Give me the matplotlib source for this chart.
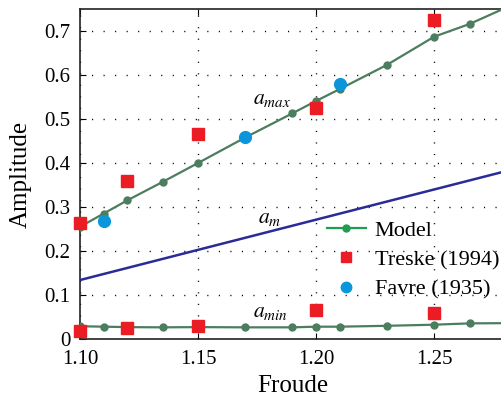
import matplotlib
matplotlib.use("Agg")
import matplotlib.pyplot as plt
from matplotlib.lines import Line2D

plt.rcParams['font.family'] = ['Liberation Serif', 'DejaVu Serif']
plt.rcParams['mathtext.fontset'] = 'stix'

froude_model = [1.10, 1.11, 1.12, 1.135, 1.15, 1.17, 1.19, 1.20, 1.21, 1.23, 1.25, 1.265, 1.28]
amax_model = [0.255, 0.285, 0.315, 0.357, 0.400, 0.458, 0.513, 0.541, 0.568, 0.623, 0.687, 0.716, 0.752]
amin_model = [0.029, 0.028, 0.027, 0.0265, 0.027, 0.0265, 0.0265, 0.028, 0.028, 0.030, 0.0325, 0.0355, 0.036]

froude_am = [1.10, 1.28]
am_model = [0.134, 0.381]

froude_treske = [1.10, 1.12, 1.15, 1.20, 1.25]
amax_treske = [0.264, 0.360, 0.465, 0.524, 0.725]
amin_treske = [0.019, 0.026, 0.030, 0.066, 0.058]

froude_favre = [1.11, 1.17, 1.21]
amax_favre = [0.269, 0.460, 0.579]

xticks = [1.10, 1.15, 1.20, 1.25]
xticklabels = ['1.10', '1.15', '1.20', '1.25']
yticks = [0, 0.1, 0.2, 0.3, 0.4, 0.5, 0.6, 0.7]
yticklabels = ['0', '0.1', '0.2', '0.3', '0.4', '0.5', '0.6', '0.7']

green = '#4b7d5e'
navy = '#2b2b97'
red = '#ec1c24'
blue = '#0b96dc'

fig = plt.figure(figsize=(5.02, 3.99), dpi=100)
ax = fig.add_axes([80/502, 1-339/399, 425/502, 330/399])

ax.plot(froude_model, amax_model, '-o', color=green, lw=1.6, ms=5, zorder=3)
ax.plot(froude_model, amin_model, '-o', color=green, lw=1.6, ms=5, zorder=3)
ax.plot(froude_am, am_model, '-', color=navy, lw=1.8, zorder=3)
ax.plot(froude_treske, amax_treske, 's', color=red, ms=8, zorder=4, clip_on=False)
ax.plot(froude_treske, amin_treske, 's', color=red, ms=8, zorder=4, clip_on=False)
ax.plot(froude_favre, amax_favre, 'o', color=blue, ms=8.5, zorder=5)

ax.set_xlim(1.10, 1.28)
ax.set_ylim(0, 0.75)
ax.set_xticks(xticks)
ax.set_xticklabels(xticklabels)
ax.set_yticks(yticks)
ax.set_yticklabels(yticklabels)
ax.tick_params(direction='in', length=4, width=0.8, top=True, labelsize=15)
ax.tick_params(axis='x', pad=8)
ax.tick_params(axis='y', pad=7)
ax.grid(True, color='black', linestyle=(0, (0.8, 7.5)), linewidth=1.0)
ax.spines['right'].set_visible(False)
for s in ['left', 'bottom', 'top']:
    ax.spines[s].set_linewidth(1.2)
    ax.spines[s].set_color('#222222')

ax.set_xlabel('Froude', fontsize=18, labelpad=4)
ax.set_ylabel('Amplitude', fontsize=18, labelpad=9)

ax.text(1.1733, 0.534, r'$a_{max}$', fontsize=15.5, ha='left', va='baseline')
ax.text(1.1754, 0.264, r'$a_{m}$', fontsize=15.5, ha='left', va='baseline')
ax.text(1.1732, 0.0507, r'$a_{min}$', fontsize=15.5, ha='left', va='baseline')

handles = [
    Line2D([], [], color='#1f9e4f', marker='o', lw=1.6, ms=5),
    Line2D([], [], color=red, marker='s', lw=0, ms=7),
    Line2D([], [], color=blue, marker='o', lw=0, ms=7.5),
]
labels = ['Model', 'Treske (1994)', 'Favre (1935)']
leg = fig.legend(handles, labels, loc='upper left', bbox_to_anchor=(327/502, 1-220/399),
                 frameon=False, fontsize=16, borderpad=0, borderaxespad=0,
                 handlelength=1.75, handletextpad=0.4, labelspacing=0.4)

fig.savefig('out.png', dpi=100)
